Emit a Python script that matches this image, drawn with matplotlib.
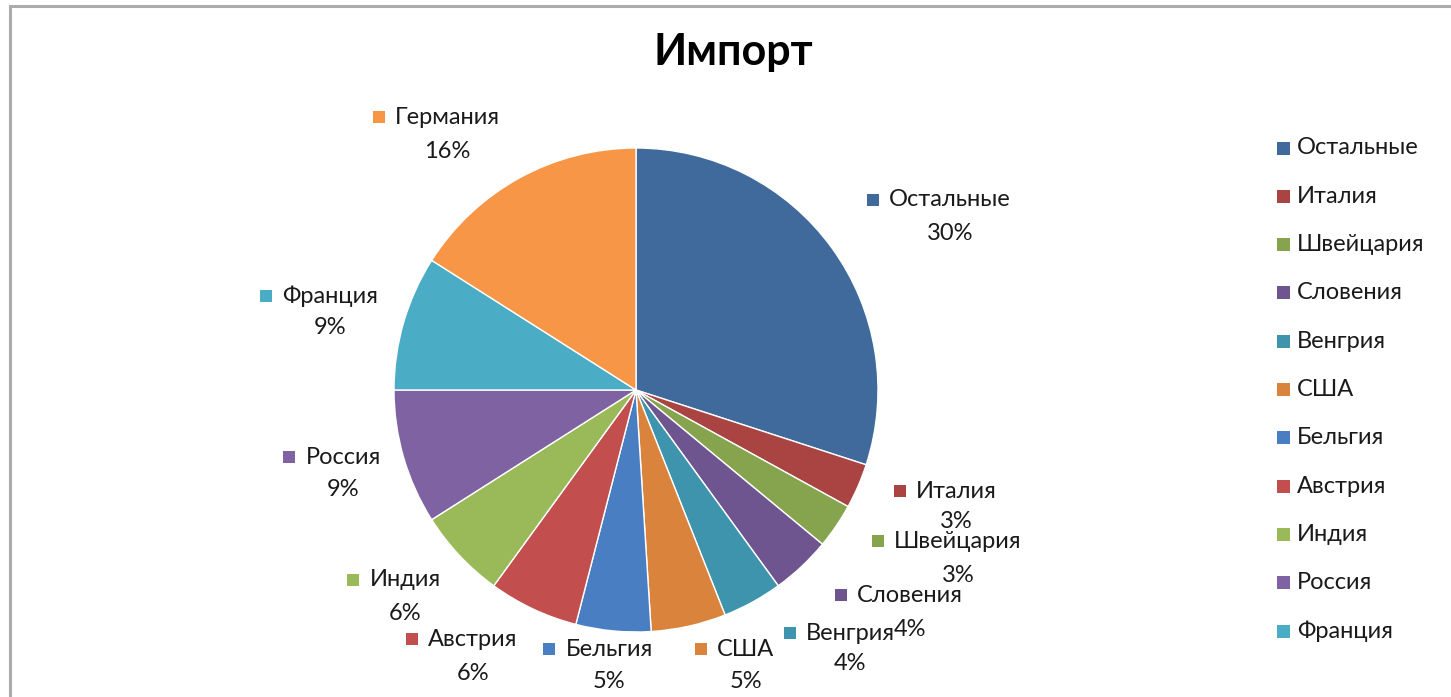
import matplotlib
matplotlib.use("Agg")
import matplotlib.pyplot as plt
import matplotlib.patches as patches

# data (clockwise from 12 o'clock)
names = ["Остальные", "Италия", "Швейцария", "Словения", "Венгрия", "США",
         "Бельгия", "Австрия", "Индия", "Россия", "Франция", "Германия"]
shares = [30, 3, 3, 4, 4, 5, 5, 6, 6, 9, 9, 16]
colors = ["#416A9C", "#A94442", "#86A34E", "#6E5590", "#3F94AD", "#DA833C",
          "#4A7EC3", "#C24F4D", "#9ABA59", "#7F62A1", "#4BACC6", "#F79646"]
legend_names = names[:-1]   # Германия is cut off in the legend

# label layout, pixel coords (x center of text, y of first line, y of second line)
LABEL_POS = {
    "Остальные": (950, 200, 233),
    "Италия": (956, 491, 522),
    "Швейцария": (958, 541, 575),
    "Словения": (910, 595, 630),
    "Венгрия": (850, 633, 664),
    "США": (746, 649, 682),
    "Бельгия": (609, 649, 682),
    "Австрия": (473, 639, 673),
    "Индия": (405, 580, 614),
    "Россия": (343, 457, 490),
    "Франция": (330, 296, 328),
    "Германия": (447, 117, 151),
}

W, H = 1451, 697
FONT = "Lato"
FS = 17

fig = plt.figure(figsize=(W / 100, H / 100), dpi=100)
ax = fig.add_axes([0, 0, 1, 1])
ax.set_xlim(0, W)
ax.set_ylim(0, H)
ax.set_aspect("equal")
ax.axis("off")

# chart frame (right/bottom edges run off the picture)
ax.add_patch(patches.Rectangle((10, -20), W + 40, H - 6 + 20, fill=False,
                               edgecolor="#ababab", linewidth=2.2))

ax.pie(shares, colors=colors, startangle=90, counterclock=False,
       center=(636, H - 390), radius=242,
       wedgeprops=dict(edgecolor="white", linewidth=1.0))
ax.set_xlim(0, W)
ax.set_ylim(0, H)

ax.text(733, H - 52, "Импорт", ha="center", va="center", fontsize=31,
        fontweight="bold", family=FONT, color="black")

fig.canvas.draw()
renderer = fig.canvas.get_renderer()
inv = ax.transData.inverted()

# data labels
for name, share, col in zip(names, shares, colors):
    cx, y1, y2 = LABEL_POS[name]
    t = ax.text(cx, H - y1, name, ha="center", va="center", fontsize=FS,
                family=FONT, color="#1a1a1a")
    ax.text(cx, H - y2, f"{share}%", ha="center", va="center", fontsize=FS,
            family=FONT, color="#1a1a1a")
    bb = t.get_window_extent(renderer)
    x0 = inv.transform((bb.x0, bb.y0))[0]
    s = 12
    ax.add_patch(patches.Rectangle((x0 - 10 - s, H - y1 - s / 2), s, s,
                                   facecolor=col, edgecolor="none"))

# legend
for i, name in enumerate(legend_names):
    y = H - (148 + i * 48.3)
    col = colors[names.index(name)]
    ax.add_patch(patches.Rectangle((1277, y - 6.5), 13, 13,
                                   facecolor=col, edgecolor="none"))
    ax.text(1297, y, name, ha="left", va="center", fontsize=FS,
            family=FONT, color="#1a1a1a")

fig.savefig("out.png", dpi=100, facecolor="white")
